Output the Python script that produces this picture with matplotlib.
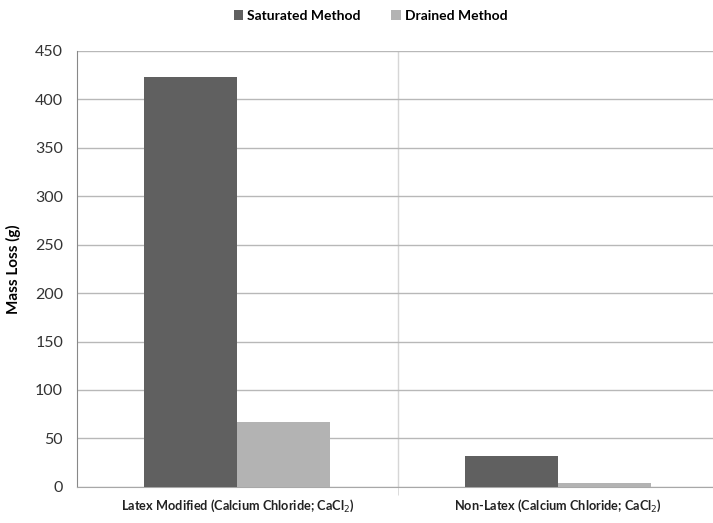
import matplotlib.pyplot as plt
import numpy as np

plt.rcParams["font.family"] = ["Lato", "DejaVu Sans"]

categories = ["Latex Modified (Calcium Chloride; CaCl$_2$)",
              "Non-Latex (Calcium Chloride; CaCl$_2$)"]
series_names = ["Saturated Method", "Drained Method"]
saturated = [423, 32]
drained = [67, 4]
y_ticks = [0, 50, 100, 150, 200, 250, 300, 350, 400, 450]

fig = plt.figure(figsize=(7.13, 5.23), dpi=100)
ax = fig.add_axes([0.108, 0.069, 0.900, 0.834])

x = np.arange(len(categories))
w = 0.29
ax.bar(x - w / 2, saturated, w, color="#606060", label=series_names[0], zorder=3)
ax.bar(x + w / 2, drained, w, color="#b3b3b3", label=series_names[1], zorder=3)

ax.set_xlim(-0.5, 1.5)
ax.set_ylim(0, 450)
ax.set_yticks(y_ticks)
ax.yaxis.grid(True, color="#b8b8b8", linewidth=1)
ax.set_axisbelow(True)

# category divider, like Excel
ax.set_xticks([0.5], minor=True)
ax.xaxis.grid(True, which="minor", color="#d6d6d6", linewidth=1)
ax.tick_params(axis="x", which="minor", length=6, color="#d6d6d6")
ax.set_xticks(x)
ax.set_xticklabels(categories, fontsize=9.2, fontweight="bold", color="#222222")
ax.tick_params(axis="x", which="major", length=0, pad=8)
ax.tick_params(axis="y", length=0, labelsize=11.5, labelcolor="#333333", pad=10)

for s in ["top", "right"]:
    ax.spines[s].set_visible(False)
ax.spines["left"].set_color("#888888")
ax.spines["bottom"].set_color("#a8a8a8")

ax.set_ylabel("Mass Loss (g)", fontsize=11, fontweight="bold", labelpad=10)

fig.legend(loc="upper center", bbox_to_anchor=(0.52, 1.005), ncol=2, frameon=False,
           handlelength=0.7, handleheight=0.7, columnspacing=2.2,
           handletextpad=0.3, prop={"weight": "bold", "size": 10})

fig.savefig("out.png", dpi=100)
